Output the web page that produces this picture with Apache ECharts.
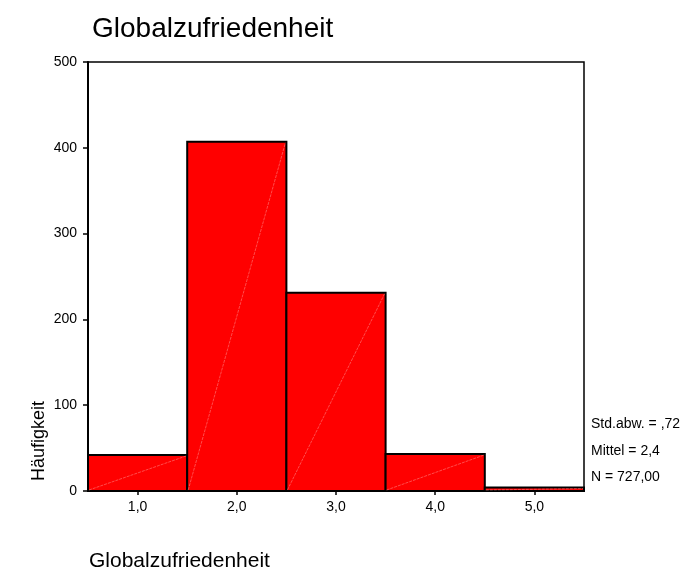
<!DOCTYPE html>
<html>
<head>
<meta charset="utf-8">
<script src="https://cdn.jsdelivr.net/npm/echarts@6/dist/echarts.min.js"></script>
<style>html,body{margin:0;padding:0;background:#fff}#c{width:685px;height:569px}</style>
</head>
<body>
<div id="c"></div>
<script>
var titleText = 'Globalzufriedenheit';
var xAxisTitle = 'Globalzufriedenheit';
var yAxisTitle = 'Häufigkeit';
var binCenters = [1, 2, 3, 4, 5];
var counts = [42, 407, 231, 43, 4];
var yTicks = [0, 100, 200, 300, 400, 500];
var statLines = ['Std.abw. = ,72', 'Mittel = 2,4', 'N = 727,00'];

var FONT = 'Liberation Sans, Arial, sans-serif';
var chart = echarts.init(document.getElementById('c'));
var data = binCenters.map(function (c, i) { return [c, counts[i]]; });

chart.setOption({
  animation: false,
  backgroundColor: '#fff',
  title: {
    text: titleText, left: 87, top: 10,
    textStyle: { fontFamily: FONT, fontSize: 28, fontWeight: 'normal', color: '#000' }
  },
  grid: { left: 88, right: 101, top: 62, bottom: 78, show: true, borderColor: '#000', borderWidth: 1.5, backgroundColor: 'transparent' },
  xAxis: {
    type: 'value', min: 0.5, max: 5.5,
    axisLine: { show: true, lineStyle: { color: '#000', width: 2 } },
    axisTick: { show: true, customValues: binCenters, length: 4, lineStyle: { color: '#000', width: 1.5 } },
    axisLabel: { customValues: binCenters, color: '#000', fontFamily: FONT, fontSize: 14, margin: 9,
      formatter: function (v) { return v.toFixed(1).replace('.', ','); } },
    splitLine: { show: false }
  },
  yAxis: {
    type: 'value', min: yTicks[0], max: yTicks[yTicks.length - 1], interval: 100,
    axisLine: { show: true, lineStyle: { color: '#000', width: 2 } },
    axisTick: { show: true, length: 5, lineStyle: { color: '#000', width: 1.5 } },
    axisLabel: { color: '#000', fontFamily: FONT, fontSize: 14, margin: 11 },
    splitLine: { show: false }
  },
  series: [{
    type: 'custom',
    data: data,
    renderItem: function (params, api) {
      var c = api.value(0), v = api.value(1);
      var p0 = api.coord([c - 0.5, 0]);
      var p1 = api.coord([c + 0.5, v]);
      return {
        type: 'group',
        children: [
          { type: 'rect', shape: { x: p0[0], y: p1[1], width: p1[0] - p0[0], height: p0[1] - p1[1] },
            style: { fill: '#ff0000', stroke: '#000', lineWidth: 2 } },
          { type: 'line', shape: { x1: p0[0] + 1, y1: p0[1] - 1, x2: p1[0] - 1, y2: p1[1] + 1 },
            style: { stroke: 'rgba(255,160,160,0.8)', lineWidth: 0.6, lineDash: [3, 1] } }
        ]
      };
    }
  }],
  graphic: [
    { type: 'text', x: 39, y: 441, rotation: Math.PI / 2,
      style: { text: yAxisTitle, font: '18px ' + FONT, fill: '#000', textAlign: 'center', textVerticalAlign: 'middle' } },
    { type: 'text', x: 89, y: 561,
      style: { text: xAxisTitle, font: '21px ' + FONT, fill: '#000', textAlign: 'left', textVerticalAlign: 'middle' } },
    { type: 'text', x: 591, y: 424,
      style: { text: statLines[0], font: '14px ' + FONT, fill: '#000', textAlign: 'left', textVerticalAlign: 'middle' } },
    { type: 'text', x: 591, y: 451,
      style: { text: statLines[1], font: '14px ' + FONT, fill: '#000', textAlign: 'left', textVerticalAlign: 'middle' } },
    { type: 'text', x: 591, y: 477,
      style: { text: statLines[2], font: '14px ' + FONT, fill: '#000', textAlign: 'left', textVerticalAlign: 'middle' } }
  ]
});
</script>
</body>
</html>
